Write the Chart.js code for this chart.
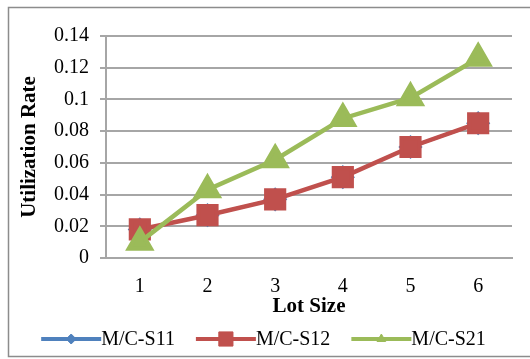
<!DOCTYPE html>
<html>
<head>
<meta charset="utf-8">
<script src="https://cdn.jsdelivr.net/npm/chart.js@4"></script>
<style>
  body { margin: 0; background: #fff; }
</style>
</head>
<body>
<canvas id="myChart" width="530" height="359"></canvas>
<script>
const lotSizes = ["1", "2", "3", "4", "5", "6"];
const s11 = [0.018, 0.027, 0.037, 0.051, 0.070, 0.085];
const s12 = [0.018, 0.027, 0.037, 0.051, 0.070, 0.085];
const s21 = [0.010, 0.043, 0.062, 0.088, 0.101, 0.126];

const font = "'Liberation Serif', 'Times New Roman', serif";
const gridGrey = "#a6a6a6";

// frame + white background
const framePlugin = {
  id: "frame",
  beforeDraw(chart) {
    const c = chart.ctx;
    c.save();
    c.fillStyle = "#fff";
    c.fillRect(0, 0, chart.width, chart.height);
    c.strokeStyle = "#8c8c8c";
    c.lineWidth = 1.5;
    c.strokeRect(8.5, 7.5, 540, 349);
    c.restore();
  }
};

// excel-like legend: line with marker in the middle, then text
const legendPlugin = {
  id: "xlLegend",
  afterDraw(chart) {
    const c = chart.ctx;
    const y = 339;
    const lineLen = 60;
    const gap = 21;
    c.save();
    c.font = "20px " + font;
    c.textBaseline = "middle";
    const items = chart.data.datasets.map(ds => ({ ds, w: c.measureText(ds.label).width }));
    const total = items.reduce((a, it) => a + lineLen + it.w, 0) + gap * (items.length - 1);
    let x = 263.5 - total / 2;
    items.forEach(({ ds, w }) => {
      c.strokeStyle = ds.borderColor;
      c.lineWidth = 4;
      c.beginPath();
      c.moveTo(x, y);
      c.lineTo(x + lineLen, y);
      c.stroke();
      c.fillStyle = ds.pointBackgroundColor;
      c.strokeStyle = ds.pointBackgroundColor;
      c.lineWidth = 1;
      Chart.helpers.drawPoint(c, { pointStyle: ds.pointStyle, radius: ds.legendRadius, borderWidth: 1 }, x + lineLen / 2, y);
      c.fillStyle = "#000";
      c.textAlign = "left";
      c.fillText(ds.label, x + lineLen, y + 1);
      x += lineLen + w + gap;
    });
    c.restore();
  }
};

new Chart(document.getElementById("myChart"), {
  type: "line",
  data: {
    labels: lotSizes,
    datasets: [
      {
        label: "M/C-S11",
        data: s11,
        borderColor: "#4f81bd",
        borderWidth: 3,
        pointStyle: "rectRot",
        pointRadius: 10,
        pointBackgroundColor: "#4f81bd",
        pointBorderColor: "#4f81bd",
        legendRadius: 5,
        order: 2
      },
      {
        label: "M/C-S12",
        data: s12,
        borderColor: "#c0504d",
        borderWidth: 4.5,
        pointStyle: "rect",
        pointRadius: 12.5,
        pointBackgroundColor: "#c0504d",
        pointBorderColor: "#c0504d",
        legendRadius: 10,
        order: 1
      },
      {
        label: "M/C-S21",
        data: s21,
        borderColor: "#9bbb59",
        borderWidth: 4.5,
        pointStyle: "triangle",
        pointRadius: 12.5,
        pointBackgroundColor: "#9bbb59",
        pointBorderColor: "#9bbb59",
        legendRadius: 5,
        order: 0
      }
    ]
  },
  options: {
    responsive: false,
    animation: false,
    layout: { padding: { top: 36, right: 18, bottom: 40, left: 0 } },
    plugins: {
      legend: { display: false },
      tooltip: { enabled: false }
    },
    scales: {
      x: {
        offset: true,
        grid: { display: false, drawTicks: false },
        border: { display: true, color: gridGrey, width: 2 },
        ticks: { color: "#000", padding: 17, font: { family: font, size: 20 } },
        title: {
          display: true,
          text: "Lot Size",
          color: "#000",
          padding: { top: 0, bottom: 0 },
          font: { family: font, size: 21, weight: "bold" }
        },
        afterFit(s) { s.height = 61; }
      },
      y: {
        min: 0,
        max: 0.14,
        grid: { color: gridGrey, lineWidth: 2, tickLength: 6 },
        border: { display: true, color: gridGrey, width: 2 },
        ticks: {
          stepSize: 0.02,
          color: "#000",
          padding: 11,
          font: { family: font, size: 20 },
          callback: v => String(+v.toFixed(2))
        },
        title: {
          display: true,
          text: "Utilization Rate",
          color: "#000",
          padding: { top: 17, bottom: 0 },
          font: { family: font, size: 21, weight: "bold" }
        },
        afterFit(s) { s.width = 106; }
      }
    }
  },
  plugins: [framePlugin, legendPlugin]
});
</script>
</body>
</html>
